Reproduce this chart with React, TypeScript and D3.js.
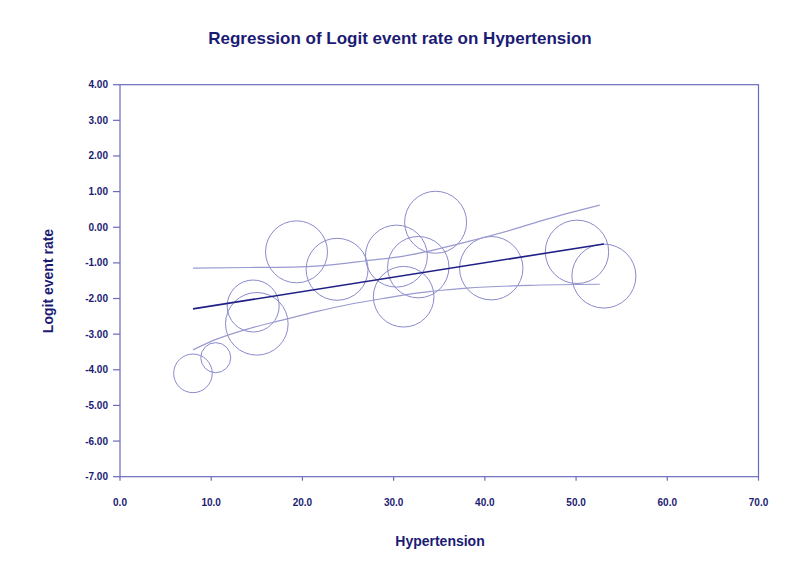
import React from 'react';
import * as d3 from 'd3';

// study values
const hypertension = [8.0, 10.5, 14.6, 15.0, 19.35, 23.8, 30.3, 31.1, 32.7, 34.6, 40.7, 50.1, 53.05];
const logitRate = [-4.1, -3.66, -2.21, -2.71, -0.69, -1.18, -0.81, -1.95, -1.12, 0.14, -1.15, -0.69, -1.37];
const weights = [3.64, 2.2, 6.6, 9.57, 9.38, 9.38, 9.38, 8.97, 9.2, 9.38, 9.81, 9.81, 10];

// regression line end points
const regX = [8.0, 53.05];
const regY = [-2.29, -0.47];

// confidence bands
const upperX = [8.0, 14.2, 19.7, 23.7, 27.0, 31.1, 34.7, 38.0, 43.1, 46.7, 52.6];
const upperY = [-1.15, -1.13, -1.11, -1.04, -0.94, -0.81, -0.62, -0.41, -0.06, 0.22, 0.62];
const lowerX = [8.0, 10.6, 14.2, 17.9, 21.5, 25.2, 28.8, 32.5, 38.0, 44.9, 52.6];
const lowerY = [-3.44, -3.14, -2.84, -2.6, -2.37, -2.16, -2.0, -1.85, -1.71, -1.63, -1.6];

const xTicks = [0, 10, 20, 30, 40, 50, 60, 70];
const yTicks = [4, 3, 2, 1, 0, -1, -2, -3, -4, -5, -6, -7];

const W = 800;
const H = 561;
const navy = '#1b1b74';
const axisColor = '#6b6bbd';
const font = 'Liberation Sans, Arial, sans-serif';

const App: React.FC = () => {
  const x = d3.scaleLinear().domain([0, 70]).range([120, 758.5]);
  const y = d3.scaleLinear().domain([-7, 4]).range([476.7, 84.7]);
  const r = d3.scaleSqrt().domain([0, 10]).range([0, 32]);

  const line = d3.line<[number, number]>()
    .x(d => x(d[0]))
    .y(d => y(d[1]))
    .curve(d3.curveMonotoneX);

  const upper = line(upperX.map((v, i) => [v, upperY[i]]) as [number, number][]) || '';
  const lower = line(lowerX.map((v, i) => [v, lowerY[i]]) as [number, number][]) || '';
  const reg = d3.line<[number, number]>().x(d => x(d[0])).y(d => y(d[1]))(
    regX.map((v, i) => [v, regY[i]]) as [number, number][]
  ) || '';

  const [x0, x1] = x.range();
  const [yb, yt] = y.range();

  return (
    <div style={{ position: 'absolute', left: 0, top: 0 }}>
      <svg width={W} height={H} style={{ display: 'block', background: '#fff' }}>
        <text x={400} y={44} textAnchor="middle" fontFamily={font} fontWeight="bold" fontSize={17} fill={navy}>
          Regression of Logit event rate on Hypertension
        </text>

        {/* frame */}
        <rect x={x0} y={yt} width={x1 - x0} height={yb - yt} fill="none" stroke={axisColor} strokeWidth={1.2} />

        {yTicks.map(t => (
          <g key={'y' + t}>
            <line x1={x0 - 7} x2={x0} y1={y(t)} y2={y(t)} stroke={axisColor} strokeWidth={1.2} />
            <text x={108} y={y(t) + 3.5} textAnchor="end" fontFamily={font} fontWeight="bold" fontSize={10} fill={navy}>
              {t.toFixed(2)}
            </text>
          </g>
        ))}
        {xTicks.map(t => (
          <g key={'x' + t}>
            <line x1={x(t)} x2={x(t)} y1={yb} y2={yb + 4} stroke={axisColor} strokeWidth={1.2} />
            <text x={x(t)} y={506} textAnchor="middle" fontFamily={font} fontWeight="bold" fontSize={10} fill={navy}>
              {t.toFixed(1)}
            </text>
          </g>
        ))}

        <text x={440} y={546} textAnchor="middle" fontFamily={font} fontWeight="bold" fontSize={14} fill={navy}>
          Hypertension
        </text>
        <text
          transform="translate(53,281) rotate(-90)"
          textAnchor="middle"
          fontFamily={font}
          fontWeight="bold"
          fontSize={14}
          fill={navy}
        >
          Logit event rate
        </text>

        {hypertension.map((v, i) => (
          <circle key={i} cx={x(v)} cy={y(logitRate[i])} r={r(weights[i])} fill="none" stroke="#8a8acb" strokeWidth={1} />
        ))}

        <path d={upper} fill="none" stroke="#9a9ad0" strokeWidth={1.2} />
        <path d={lower} fill="none" stroke="#9a9ad0" strokeWidth={1.2} />
        <path d={reg} fill="none" stroke="#1f1f86" strokeWidth={1.6} />
      </svg>
    </div>
  );
};

export default App;
